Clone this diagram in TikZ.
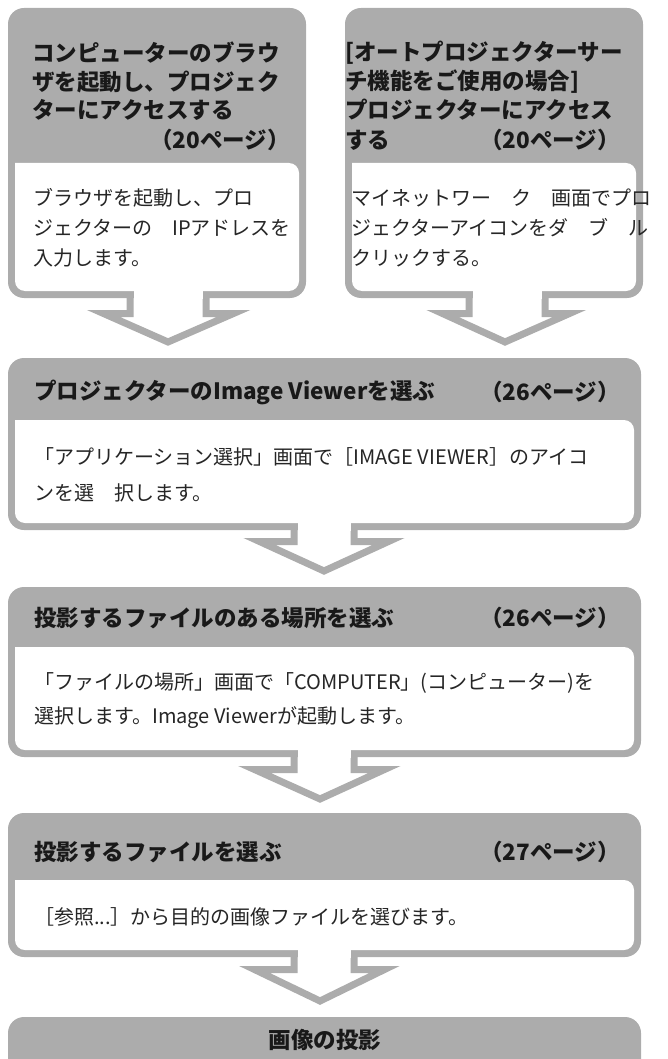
\documentclass[tikz,border=0pt]{standalone}
\usepackage{fontspec}
\setmainfont{Noto Sans CJK JP}
\newfontfamily\bodyfont{Noto Sans CJK JP}
\definecolor{fg}{RGB}{172,172,172}
\tikzset{
  hd/.style={font=\bfseries\fontsize{22.5}{24}\selectfont, inner sep=0pt, text=black!90},
  bd/.style={font=\bodyfont\fontsize{20}{22}\selectfont, inner sep=0pt, text=black!85},
  arr/.style={draw=fg, line width=7pt, fill=white, line join=miter},
}
\newcommand\flowbox[5]{%
  \fill[fg, rounded corners=16pt] (#1,#2) rectangle (#3,#4);
  \fill[white, rounded corners=10pt] (#1+7,#5) -- (#1+7,#4-7) -- (#3-7,#4-7) -- (#3-7,#5) [sharp corners] -- cycle;
}
\newcommand\flowarrow[8]{%
  \draw[arr] (#2,#1-20) -- (#2,#4) -- (#5,#4) -- (#7,#8) -- (#6,#4) -- (#3,#4) -- (#3,#1-20) -- cycle;
}
\newcommand\openstem[3]{\fill[white] (#2+3.5,#1-12) rectangle (#3-3.5,#1+1);}
\begin{document}
\begin{tikzpicture}[x=1pt,y=-1pt]
\useasboundingbox (0,0) rectangle (668,1059);
\flowarrow{298}{130}{206}{313.5}{103.5}{233.5}{168}{342}
\flowarrow{298}{469}{545}{313.5}{442.5}{569.5}{505}{342}
\flowarrow{530}{294}{354}{541.5}{259.5}{388.5}{324}{571}
\flowarrow{757}{294}{354}{769.5}{254.5}{384.5}{320}{799}
\flowarrow{957}{294}{354}{969.5}{254.5}{384.5}{320}{1001}
\flowbox{8}{8}{306}{298}{163}
\flowbox{345}{8}{643}{298}{163}
\flowbox{8}{358}{641}{530}{420}
\flowbox{8}{587}{641}{757}{647}
\flowbox{8}{813}{641}{957}{880}
\openstem{298}{130}{206}
\openstem{298}{469}{545}
\openstem{530}{294}{354}
\openstem{757}{294}{354}
\openstem{957}{294}{354}
\fill[fg, rounded corners=16pt] (8,1017) rectangle (641,1075);
\node[hd,anchor=west] (a1) at (32,53) {コンピューターのブラウ};
\node[hd,anchor=west] (a2) at (32,82) {ザを起動し、プロジェク};
\node[hd,anchor=west] (a3) at (32,110) {ターにアクセスする};
\node[hd,anchor=east] (a4) at (290,140) {（20ページ）};
\node[bd,anchor=west] (a5) at (33,198) {ブラウザを起動し、プロ};
\node[bd,anchor=west] (a6) at (33,228) {ジェクターの　IPアドレスを};
\node[bd,anchor=west] (a7) at (33,258) {入力します。};
\node[hd,anchor=west] (b1) at (345,53) {[オートプロジェクターサー};
\node[hd,anchor=west] (b2) at (345,82) {チ機能をご使用の場合]};
\node[hd,anchor=west] (b3) at (345,110) {プロジェクターにアクセス};
\node[hd,anchor=west] (b4) at (345,140) {する};
\node[hd,anchor=east] (b5) at (620,140) {（20ページ）};
\node[bd,anchor=west] (b6) at (351,198) {マイネットワー　ク　画面でプロ};
\node[bd,anchor=west] (b7) at (351,228) {ジェクターアイコンをダ　ブ　ル};
\node[bd,anchor=west] (b8) at (351,258) {クリックする。};
\node[hd,anchor=west] (c1) at (34,392) {プロジェクターのImage Viewerを選ぶ};
\node[hd,anchor=east] (c2) at (620,392) {（26ページ）};
\node[bd,anchor=west] (c3) at (34,457) {「アプリケーション選択」画面で［IMAGE VIEWER］のアイコ};
\node[bd,anchor=west] (c4) at (34,493) {ンを選　択します。};
\node[hd,anchor=west] (d1) at (34,618) {投影するファイルのある場所を選ぶ};
\node[hd,anchor=east] (d2) at (620,618) {（26ページ）};
\node[bd,anchor=west] (d3) at (34,683) {「ファイルの場所」画面で「COMPUTER」(コンピューター)を};
\node[bd,anchor=west] (d4) at (34,718) {選択します。Image Viewerが起動します。};
\node[hd,anchor=west] (e1) at (34,852) {投影するファイルを選ぶ};
\node[hd,anchor=east] (e2) at (620,852) {（27ページ）};
\node[bd,anchor=west] (e3) at (34,917) {［参照...］から目的の画像ファイルを選びます。};
\node[hd] (f1) at (325,1040) {画像の投影};
\end{tikzpicture}
\end{document}
